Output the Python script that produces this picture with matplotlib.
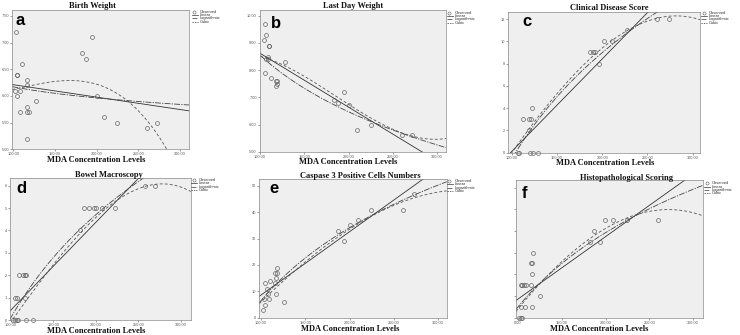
import numpy as np
import matplotlib
matplotlib.use('Agg')
import matplotlib.pyplot as plt
from matplotlib.lines import Line2D

W, H = 740, 335
fig = plt.figure(figsize=(7.4, 3.35), dpi=100)
fig.patch.set_facecolor('white')

# ---------------- data ----------------
x_ticks = [100, 150, 200, 250, 300]
x_tick_labels = ["100.00", "150.00", "200.00", "250.00", "300.00"]
f_x_tick_labels = ["0.00", "150.00", "200.00", "250.00", "300.00"]

# a: Birth Weight
a_x = [103, 110, 104, 105, 117, 102, 108, 105, 117, 127, 116, 108, 116, 119, 117,
       183, 187, 194, 200, 209, 225, 261, 273]
a_y = [7.2, 6.6, 6.4, 6.4, 6.3, 6.1, 6.1, 6.0, 6.2, 5.9, 5.8, 5.7, 5.7, 5.7, 5.2,
       6.8, 6.7, 7.1, 6.0, 5.6, 5.5, 5.4, 5.5]
a_lin_x, a_lin_y = [100, 311], [6.21, 5.72]
a_log_x, a_log_y = [100, 311], [6.17, 5.83]
a_cub_x, a_cub_y = [100, 164, 200, 238, 284], [6.12, 6.31, 6.18, 5.92, 5.0]

# b: Last Day Weight
b_x = [106, 107, 105, 110, 110.5, 109, 107, 108.5, 106, 112, 118.5, 119, 119, 118.5, 128,
       195, 183, 188, 200.5, 209, 225, 260, 272]
b_y = [9.7, 9.3, 9.1, 8.9, 8.9, 8.5, 8.4, 8.4, 7.9, 7.7, 7.6, 7.6, 7.5, 7.4, 8.3,
       7.2, 6.9, 6.8, 6.7, 5.8, 6.0, 5.6, 5.6]
b_lin_x, b_lin_y = [100, 282.6], [8.62, 5.0]
b_log_x, b_log_y = [100, 310], [8.55, 5.15]
b_cub_x, b_cub_y = [100, 150, 200, 250, 310], [8.5, 7.8, 6.7, 5.85, 5.48]

# c: Clinical Disease Score
c_x = [107, 108.5, 120, 123.5, 129, 113, 119.5, 121, 122, 119.5,
       196, 186, 189.5, 192, 202.5, 211, 227, 261, 273.5]
c_y = [0, 0, 0, 0, 0, 3, 3, 3, 4, 2, 8, 9, 9, 9, 10, 10, 11, 12, 12]
c_lin_x, c_lin_y = [100, 195], [0.1, 8.0]
c_log_x, c_log_y = [115, 235], [1.35, 11.2]
c_cub_x, c_cub_y = [100, 150, 200, 250, 285, 311], [0.0, 5.2, 9.5, 11.8, 12.2, 11.9]

# d: Bowel Macroscopy
d_x = [109.6, 114.2, 116.2, 118.1, 104.6, 106.5, 116.2,
       102.7, 104.6, 106.5, 108.5, 117.3, 125.8,
       181.5, 185.4, 191.9, 198, 199.6, 207.7, 222.7, 257.3, 269.2]
d_y = [2, 2, 2, 2, 1, 1, 1, 0, 0, 0, 0, 0, 0, 4, 5, 5, 5, 5, 5, 5, 6, 6]
d_lin_x, d_lin_y = [100, 250], [0.45, 6.32]
d_log_x, d_log_y = [115, 240], [1.04, 5.91]
d_cub_x, d_cub_y = [100, 150, 200, 250, 265, 311], [-0.07, 2.46, 4.6, 5.88, 6.0, 5.76]

# e: Caspase 3 Positive Cells Numbers
e_x = [102.6, 104.5, 104.5, 107, 107.5, 109, 110, 103.8, 115.8, 117.7, 118.4, 117,
       115.8, 117, 126, 186.5, 194, 200.4, 209.8, 224.8, 260.5, 273]
e_y = [3, 5, 13, 11, 9, 7, 14, 7, 17, 17, 19, 15, 13, 9, 6, 33, 29, 35, 37, 41, 41, 47]
e_lin_x, e_lin_y = [100, 282], [8.6, 52.3]
e_log_x, e_log_y = [100, 310], [6.5, 51.6]
e_cub_x, e_cub_y = [100, 168, 225, 273, 310], [6.0, 26.0, 38.5, 45.5, 48.1]

# f: Histopathological Scoring
f_x = [103, 108.4, 116.4, 103, 105, 106.9, 108.8, 115.2, 116.4, 115.2, 116.4, 117.5,
       125.5, 101.1, 103, 105, 181.9, 193.3, 186.5, 199.8, 208.6, 224.6, 260]
f_y = [0.5, 0.5, 0.5, 1.5, 1.5, 1.5, 1.5, 1.5, 2.0, 2.5, 2.5, 3.0,
       1.0, 0, 0, 0, 3.5, 3.5, 4.0, 4.5, 4.5, 4.5, 4.5]
f_lin_x, f_lin_y = [100, 289], [0.86, 6.3]
f_log_x, f_log_y = [100, 311], [0.5, 6.1]
f_cub_x, f_cub_y = [100, 150, 200, 250, 270, 311], [0.4, 2.6, 4.1, 4.9, 5.0, 4.7]

legend_labels = ["Observed", "Linear", "Logarithmic", "Cubic"]
x_label = "MDA Concentration Levels"

# ---------------- layout (pixels) ----------------
panels = [
    dict(letter="a", title="Birth Weight", x=a_x, y=a_y,
         lin=(a_lin_x, a_lin_y), log=(a_log_x, a_log_y), cub=(a_cub_x, a_cub_y),
         box=(12.3, 10, 189, 149.3), xlim=(98.8, 310.8), ylim=(5.0, 7.61),
         yticks=[5.0, 5.5, 6.0, 6.5, 7.0, 7.5], yfmt="{:.2f}",
         title_xy=(92, 6), xlabel_xy=(96, 159.5), letter_xy=(16, 25), leg_xy=(192, 11.7)),
    dict(letter="b", title="Last Day Weight", x=b_x, y=b_y,
         lin=(b_lin_x, b_lin_y), log=(b_log_x, b_log_y), cub=(b_cub_x, b_cub_y),
         box=(260, 10, 446, 151.7), xlim=(100.5, 310), ylim=(5.0, 10.21),
         yticks=[5, 6, 7, 8, 9, 10], yfmt="{:.2f}",
         title_xy=(353, 6), xlabel_xy=(348, 161.5), letter_xy=(271, 28), leg_xy=(447, 12.7)),
    dict(letter="c", title="Clinical Disease Score", x=c_x, y=c_y,
         lin=(c_lin_x, c_lin_y), log=(c_log_x, c_log_y), cub=(c_cub_x, c_cub_y),
         box=(508, 12, 700, 152.7), xlim=(96, 308), ylim=(0, 12.63),
         yticks=[0, 2, 4, 6, 8, 10, 12], yfmt="{:.0f}",
         title_xy=(609, 8), xlabel_xy=(605, 163), letter_xy=(522, 26), leg_xy=(701, 12.7)),
    dict(letter="d", title="Bowel Macroscopy", x=d_x, y=d_y,
         lin=(d_lin_x, d_lin_y), log=(d_log_x, d_log_y), cub=(d_cub_x, d_cub_y),
         box=(10, 178, 190.7, 320), xlim=(98.8, 311.7), ylim=(0, 6.34),
         yticks=[0, 1, 2, 3, 4, 5, 6], yfmt="{:.0f}",
         title_xy=(109, 175), xlabel_xy=(96, 331), letter_xy=(16, 193), leg_xy=(191, 180)),
    dict(letter="e", title="Caspase 3 Positive Cells Numbers", x=e_x, y=e_y,
         lin=(e_lin_x, e_lin_y), log=(e_log_x, e_log_y), cub=(e_cub_x, e_cub_y),
         box=(259.3, 179, 446.7, 317.7), xlim=(98, 309.8), ylim=(0, 52.6),
         yticks=[0, 10, 20, 30, 40, 50], yfmt="{:.0f}",
         title_xy=(360, 176), xlabel_xy=(350, 329), letter_xy=(269, 193), leg_xy=(447, 181)),
    dict(letter="f", title="Histopathological Scoring", x=f_x, y=f_y,
         lin=(f_lin_x, f_lin_y), log=(f_log_x, f_log_y), cub=(f_cub_x, f_cub_y),
         box=(516, 180, 702.7, 317.7), xlim=(97.7, 311), ylim=(0, 6.35),
         yticks=[0, 1, 2, 3, 4, 5, 6], yfmt=None,
         title_xy=(626, 178), xlabel_xy=(599, 329.3), letter_xy=(522, 198), leg_xy=(704, 183.3)),
]

serif = ["Liberation Serif", "DejaVu Serif"]
sans = ["Liberation Sans", "DejaVu Sans"]
line_col = "#333333"
pt_col = "#555555"
ls_log = (0, (7, 1.5, 1.5, 1.5))
ls_cub = (0, (3.5, 2.5))


def fx(px):
    return px / W


def fy(py):
    return 1 - py / H


for p in panels:
    l, t, r, b = p["box"]
    ax = fig.add_axes([fx(l), fy(b), (r - l) / W, (b - t) / H])
    ax.set_facecolor("#efefef")
    for s in ax.spines.values():
        s.set_color("#8a8a8a")
        s.set_linewidth(0.5)
    ax.set_xlim(*p["xlim"])
    ax.set_ylim(*p["ylim"])
    ax.set_xticks(x_ticks)
    ax.set_xticklabels(f_x_tick_labels if p["letter"] == "f" else x_tick_labels,
                       fontfamily=sans)
    ax.set_yticks(p["yticks"])
    if p["yfmt"] is None:
        ax.set_yticklabels([])
    else:
        ax.set_yticklabels([p["yfmt"].format(v) for v in p["yticks"]], fontfamily=sans)
    ax.tick_params(direction="out", length=1.5, width=0.4, labelsize=2.8, pad=0.8,
                   colors="#555555")

    xs = np.linspace(p["xlim"][0], p["xlim"][1], 300)
    lx, ly = p["lin"]
    c1 = np.polyfit(lx, ly, 1)
    ax.plot(xs, np.polyval(c1, xs), color=line_col, lw=0.6)
    gx, gy = p["log"]
    c2 = np.polyfit(np.log(gx), gy, 1)
    ax.plot(xs, np.polyval(c2, np.log(xs)), color="#444444", lw=0.6, ls=ls_log)
    cx, cy = p["cub"]
    c3 = np.polyfit(cx, cy, 3)
    ax.plot(xs, np.polyval(c3, xs), color="#555555", lw=0.6, ls=ls_cub)

    ax.plot(p["x"], p["y"], ls="none", marker="o", ms=2.8, mfc="none",
            mec=pt_col, mew=0.45, clip_on=False)

    fig.text(fx(p["title_xy"][0]), fy(p["title_xy"][1]), p["title"], ha="center",
             va="center", fontsize=6, fontweight="bold", fontfamily=serif, color="#111111")
    fig.text(fx(p["xlabel_xy"][0]), fy(p["xlabel_xy"][1]), x_label, ha="center",
             va="center", fontsize=6, fontweight="bold", fontfamily=serif, color="#111111")
    fig.text(fx(p["letter_xy"][0]), fy(p["letter_xy"][1]), p["letter"], ha="left",
             va="baseline", fontsize=12, fontweight="bold", fontfamily=sans, color="black")

    # legend
    gx0, gy0 = p["leg_xy"]
    styles = [None, "-", ls_log, ls_cub]
    for i, lab in enumerate(legend_labels):
        yy = fy(gy0 + 3.3 * i)
        if i == 0:
            fig.add_artist(Line2D([fx(gx0 + 2.5)], [yy], transform=fig.transFigure,
                                  ls="none", marker="o", ms=2.2, mfc="none",
                                  mec=pt_col, mew=0.4))
        else:
            fig.add_artist(Line2D([fx(gx0), fx(gx0 + 6)], [yy, yy],
                                  transform=fig.transFigure, color=line_col, lw=0.5,
                                  ls=styles[i] if i != 3 else (0, (2, 1.5))))
        fig.text(fx(gx0 + 8), yy, lab, ha="left", va="center", fontsize=2.9,
                 fontfamily=sans, color="#333333")

fig.savefig("out.png", dpi=100, facecolor="white")
